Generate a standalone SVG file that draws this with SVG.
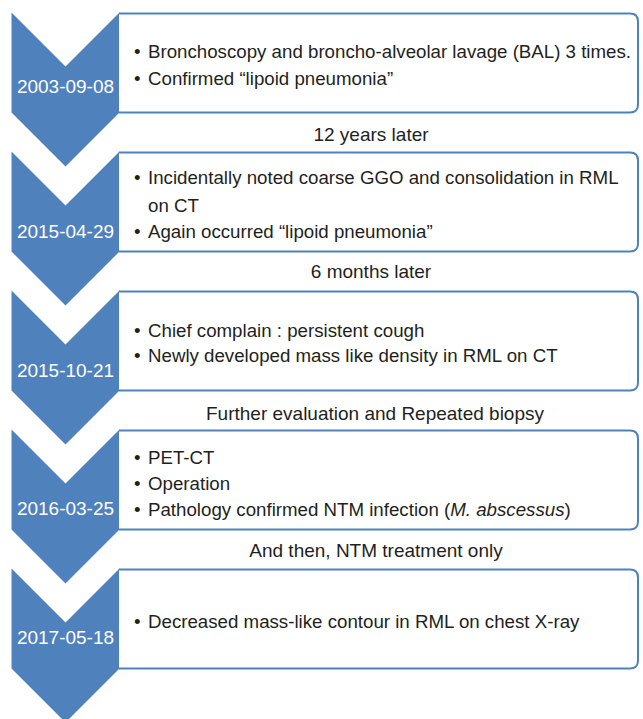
<svg xmlns="http://www.w3.org/2000/svg" width="643" height="719" viewBox="0 0 643 719">
<style>
.chev{fill:#4f81bd;}
.box{fill:#fff;stroke:#4f81bd;stroke-width:2;}
.date{font-family:"Liberation Sans",Arial,sans-serif;font-size:19px;fill:#fff;text-anchor:middle;}
.t{font-family:"Liberation Sans",Arial,sans-serif;font-size:18.7px;fill:#231f20;}
.lbl{font-family:"Liberation Sans",Arial,sans-serif;font-size:19px;fill:#231f20;text-anchor:middle;}
</style>
<defs>
<path id="chev" class="chev" d="M0,0 L54,54 L108,0 L108,100 L54,154 L0,100 Z"/>
<path id="box" class="box" d="M0,1 L511,1 Q519,1 519,9 L519,92 Q519,100 511,100 L0,100"/>
</defs>
<g id="connectors">
<text class="lbl" x="371" y="141">12 years later</text>
<text class="lbl" x="371" y="278">6 months later</text>
<text class="lbl" x="375" y="420">Further evaluation and Repeated biopsy</text>
<text class="lbl" x="376" y="557">And then, NTM treatment only</text>
</g>
<g id="node1">
<use href="#chev" x="11.5" y="12.5"/>
<use href="#box" x="119" y="12.5"/>
<text class="date" x="65.5" y="93">2003-09-08</text>
<text class="t" y="58"><tspan x="134">•</tspan><tspan x="148">Bronchoscopy and broncho-alveolar lavage (BAL) 3 times.</tspan></text>
<text class="t" y="85"><tspan x="134">•</tspan><tspan x="148">Confirmed “lipoid pneumonia”</tspan></text>
</g>
<g id="node2">
<use href="#chev" x="11.5" y="151.5"/>
<use href="#box" x="119" y="151.5"/>
<text class="date" x="65.5" y="238">2015-04-29</text>
<text class="t" y="184"><tspan x="134">•</tspan><tspan x="148">Incidentally noted coarse GGO and consolidation in RML</tspan></text>
<text class="t" x="148" y="212">on CT</text>
<text class="t" y="238"><tspan x="134">•</tspan><tspan x="148">Again occurred “lipoid pneumonia”</tspan></text>
</g>
<g id="node3">
<use href="#chev" x="11.5" y="290.5"/>
<use href="#box" x="119" y="290.5"/>
<text class="date" x="65.5" y="377">2015-10-21</text>
<text class="t" y="337"><tspan x="134">•</tspan><tspan x="148">Chief complain : persistent cough</tspan></text>
<text class="t" y="362"><tspan x="134">•</tspan><tspan x="148">Newly developed mass like density in RML on CT</tspan></text>
</g>
<g id="node4">
<use href="#chev" x="11.5" y="429.5"/>
<use href="#box" x="119" y="429.5"/>
<text class="date" x="65.5" y="515">2016-03-25</text>
<text class="t" y="464"><tspan x="134">•</tspan><tspan x="148">PET-CT</tspan></text>
<text class="t" y="490"><tspan x="134">•</tspan><tspan x="148">Operation</tspan></text>
<text class="t" y="516"><tspan x="134">•</tspan><tspan x="148">Pathology confirmed NTM infection (<tspan font-style="italic">M. abscessus</tspan>)</tspan></text>
</g>
<g id="node5">
<use href="#chev" x="11.5" y="568.5"/>
<use href="#box" x="119" y="568.5"/>
<text class="date" x="65.5" y="644">2017-05-18</text>
<text class="t" y="628"><tspan x="134">•</tspan><tspan x="148">Decreased mass-like contour in RML on chest X-ray</tspan></text>
</g>
</svg>
